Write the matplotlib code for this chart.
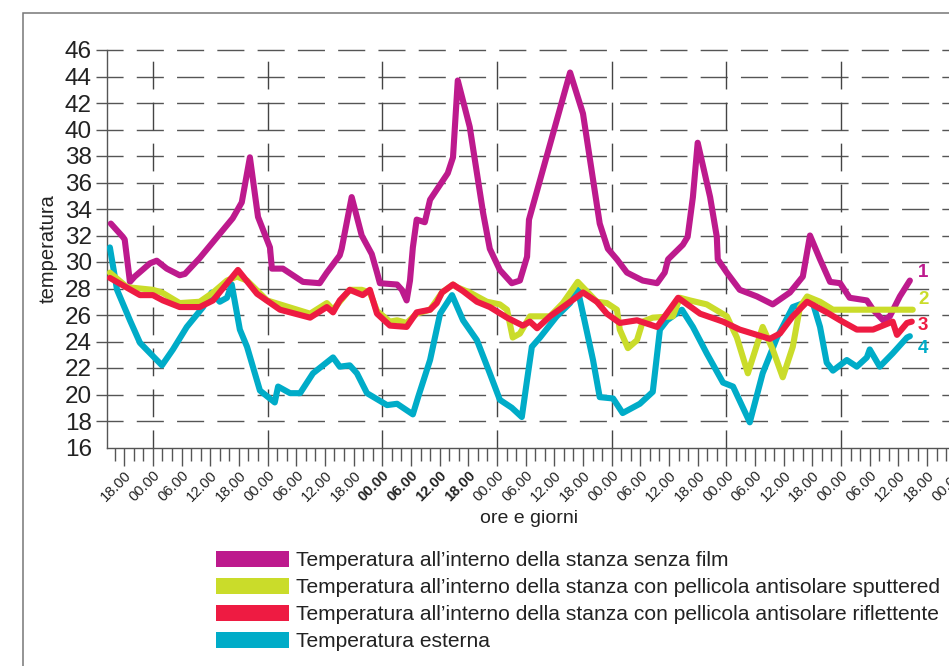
import matplotlib
matplotlib.use("Agg")
import matplotlib.pyplot as plt
from matplotlib.patches import Patch, Rectangle

plt.rcParams['font.family'] = ['Liberation Sans', 'DejaVu Sans']
plt.rcParams['lines.scale_dashes'] = False

# hours from the first midnight
t_senza = [-8.8, -6.3, -5.9, -4.8, -3.8, -0.6, 0.8, 2.9, 5.6, 6.7, 9.8, 16.7, 18.6, 20.3,
           22.0, 24.5, 24.9, 27.2, 31.4, 34.9, 36.4, 39.1, 39.5, 41.6, 43.7, 45.8, 46.9,
           47.5, 51.1, 52.1, 53.1, 53.8, 54.4, 55.2, 56.9, 58.0, 61.7, 62.8, 63.8, 66.3,
           69.1, 70.5, 72.6, 75.1, 76.8, 78.3, 78.7, 87.3, 90.0, 93.5, 95.2, 97.1, 99.2,
           102.5, 105.5, 107.1, 107.8, 110.9, 111.9, 113.0, 114.0, 116.6, 118.0, 118.2,
           120.1, 122.8, 126.4, 129.7, 133.3, 136.0, 137.5, 139.6, 141.7, 143.8, 145.8,
           149.4, 150.7, 152.8, 154.2, 156.3, 158.4]
v_senza = [32.9, 31.9, 31.7, 28.5, 28.9, 29.9, 30.1, 29.5, 29.0, 29.1, 30.3, 33.3, 34.5, 37.9,
           33.4, 31.1, 29.5, 29.5, 28.5, 28.4, 29.2, 30.5, 31.0, 34.9, 32.0, 30.6, 29.2,
           28.4, 28.3, 27.9, 27.1, 28.6, 31.1, 33.2, 33.0, 34.7, 36.7, 37.9, 43.7, 40.2,
           33.7, 31.0, 29.4, 28.4, 28.6, 30.4, 33.2, 44.3, 41.2, 32.9, 31.0, 30.2, 29.2,
           28.6, 28.4, 29.2, 30.2, 31.3, 31.9, 34.9, 39.0, 34.9, 31.9, 30.2,
           29.2, 27.9, 27.4, 26.8, 27.7, 28.9, 32.0, 30.2, 28.5, 28.4, 27.3,
           27.1, 26.4, 25.6, 25.9, 27.4, 28.6]

t_sputt = [-9.0, -5.4, 0.0, 1.9, 5.6, 9.8, 12.6, 15.5, 17.6, 19.7, 23.9, 32.9, 36.4, 37.7,
           39.8, 41.2, 43.7, 45.4, 46.9, 49.6, 51.1, 53.1, 55.2, 58.0, 60.5, 62.8, 63.6,
           66.3, 69.9, 72.6, 74.1, 75.3, 76.8, 78.9, 83.1, 85.8, 88.9, 92.9, 95.0, 97.1,
           97.7, 99.4, 101.3, 102.5, 104.6, 108.8, 110.3, 112.4, 115.9, 120.1, 122.2,
           124.5, 127.6, 129.7, 131.8, 133.9, 135.4, 136.9, 139.6, 142.3, 159.0]
v_sputt = [29.2, 28.1, 27.9, 27.7, 26.9, 27.0, 27.7, 28.6, 28.9, 28.6, 27.1, 26.1, 26.9, 26.4,
           27.3, 27.9, 27.9, 27.7, 26.3, 25.5, 25.6, 25.4, 26.1, 26.4, 27.7, 28.3, 28.1,
           27.7, 27.0, 26.8, 26.4, 24.3, 24.6, 25.9, 25.9, 26.9, 28.5, 27.0, 26.9, 26.4,
           24.9, 23.5, 24.1, 25.5, 25.8, 25.9, 27.3, 27.1, 26.8, 25.9, 24.3,
           21.6, 25.1, 23.4, 21.3, 23.6, 26.6, 27.4, 27.0, 26.4, 26.4]

t_rifl = [-9.0, -2.7, 0.0, 2.1, 5.6, 9.8, 12.6, 17.8, 21.8, 26.6, 32.9, 36.4, 37.7, 39.1,
          41.2, 43.9, 45.4, 46.9, 49.6, 53.1, 55.2, 58.0, 59.4, 60.5, 62.8, 64.9, 67.8,
          70.5, 74.1, 77.4, 78.9, 80.4, 83.1, 85.8, 90.0, 92.9, 95.0, 97.7, 101.3, 105.5,
          109.9, 114.5, 119.3, 122.8, 129.1, 131.2, 133.9, 136.9, 141.0, 143.8, 147.3,
          150.7, 154.8, 155.7, 157.8, 158.8]
v_rifl = [28.8, 27.5, 27.5, 27.1, 26.6, 26.6, 27.1, 29.4, 27.6, 26.4, 25.8, 26.6, 26.2, 27.1,
          27.9, 27.5, 27.9, 26.1, 25.2, 25.1, 26.2, 26.4, 26.9, 27.7, 28.3, 27.8, 27.0,
          26.6, 25.8, 25.2, 25.5, 25.0, 25.9, 26.6, 27.7, 27.0, 26.1, 25.4, 25.6, 25.1,
          27.3, 26.1, 25.5, 24.9, 24.2, 24.6, 25.9, 27.0, 26.2, 25.6, 24.9,
          24.9, 25.5, 24.5, 25.4, 25.5]

t_est = [-9.0, -7.5, -4.8, -2.7, 1.9, 4.2, 7.1, 10.5, 12.3, 14.0, 15.5, 16.5, 18.2, 19.7,
         22.4, 25.5, 26.2, 28.7, 30.8, 33.5, 37.7, 39.1, 41.2, 42.7, 44.8, 49.0, 51.1,
         54.4, 55.5, 58.0, 60.1, 62.6, 64.9, 67.8, 70.5, 72.6, 75.1, 77.2, 78.3, 79.3,
         81.0, 84.5, 87.3, 88.9, 90.0, 92.1, 93.5, 96.3, 98.3, 101.9, 104.6, 106.1, 107.6,
         110.7, 113.0, 115.9, 119.3, 121.4, 124.9, 127.6, 130.6, 133.9, 136.9, 138.1,
         139.6, 141.0, 142.3, 145.2, 147.3, 149.4, 150.0, 152.1, 154.8, 157.8, 158.4]
v_est = [31.1, 27.9, 25.6, 23.9, 22.2, 23.4, 25.1, 26.6, 27.7, 27.0, 27.3, 28.3, 24.9, 23.6,
         20.3, 19.4, 20.6, 20.1, 20.1, 21.6, 22.8, 22.1, 22.2, 21.6, 20.1, 19.2, 19.3,
         18.5, 19.8, 22.6, 26.1, 27.5, 25.6, 24.1, 21.6, 19.6, 19.0, 18.3, 21.1, 23.6,
         24.3, 25.9, 26.9, 27.9, 26.1, 22.6, 19.8, 19.7, 18.6, 19.3, 20.2, 24.9, 25.6,
         26.4, 25.1, 23.1, 20.9, 20.6, 17.9, 21.6, 24.3, 26.6, 27.0, 26.9,
         25.1, 22.4, 21.8, 22.6, 22.1, 22.8, 23.4, 22.1, 23.1, 24.3, 24.4]

nomi = ['Temperatura all\u2019interno della stanza senza film',
        'Temperatura all\u2019interno della stanza con pellicola antisolare sputtered',
        'Temperatura all\u2019interno della stanza con pellicola antisolare riflettente',
        'Temperatura esterna']
colori = ['#BD1A8D', '#CADC2A', '#EE1B42', '#00ACC8']
numeri = ['1', '2', '3', '4']
y_numeri = [29.2, 27.2, 25.2, 23.5]

ore = list(range(-6, 169, 6))
etichette = ['%02d.00' % (h % 24) for h in ore]
grassetto = [48, 54, 60, 66]

W, H = 949, 666
fig = plt.figure(figsize=(W / 100, H / 100), dpi=100)
x0, x1 = -9.6, 170
px_h = 4.779
ax_w = (x1 - x0) * px_h
ax = fig.add_axes([107 / W, 1 - 447.5 / H, ax_w / W, 397.5 / H])
ax.set_xlim(x0, x1)
ax.set_ylim(16, 46)

# frame round the picture
fig.add_artist(Rectangle((23 / W, -0.1), 1.2, 1.1 - 13 / H, transform=fig.transFigure,
                         fill=False, ec='#777777', lw=1.1))

for y in range(18, 47, 2):
    ax.axhline(y, xmin=-11 / ax_w, xmax=1, color='#555555', lw=1.0,
               ls=(0, (19.5, 9.5)), clip_on=False, zorder=1)
for h in range(0, 169, 24):
    ax.axvline(h, color='#444444', lw=1.0, ls=(7, (20, 9.5)), zorder=1)

serie = [(t_est, v_est), (t_senza, v_senza), (t_sputt, v_sputt), (t_rifl, v_rifl)]
ordine = [3, 0, 1, 2]
for (tt, vv), i in zip(serie, ordine):
    ax.plot(tt, vv, color=colori[i], lw=4.4, solid_joinstyle='round',
            solid_capstyle='round', zorder=3)

for n, y, c in zip(numeri, y_numeri, colori):
    ax.text(161.2, y, n, color=c, fontsize=13.5, fontweight='bold', ha='center',
            va='center')

for s in ['top', 'right']:
    ax.spines[s].set_visible(False)
for s in ['left', 'bottom']:
    ax.spines[s].set_color('#555555')
    ax.spines[s].set_linewidth(1.0)

ax.set_yticks(range(16, 47, 2))
ax.tick_params(axis='y', length=0, pad=11, labelsize=17.5, labelcolor='#222222')
ax.set_xticks(ore)
ax.set_xticks(range(-8, 169, 2), minor=True)
ax.set_xticklabels(etichette, rotation=45, ha='right', va='top',
                   rotation_mode='anchor', fontsize=10.5, color='#222222')
for h, lab in zip(ore, ax.get_xticklabels()):
    if h in grassetto:
        lab.set_fontweight('bold')
ax.tick_params(axis='x', which='major', length=13, width=1.0, color='#555555', pad=2)
ax.tick_params(axis='x', which='minor', length=9, width=1.0, color='#555555')

ax.set_xlabel('ore e giorni', fontsize=14, color='#222222')
ax.xaxis.set_label_coords((529 - 107) / ax_w, -0.156)
ax.set_ylabel('temperatura', fontsize=14.5, color='#222222')
ax.yaxis.set_label_coords(-49 / ax_w, 0.5)

maniglie = [Patch(facecolor=c, edgecolor='none') for c in colori]
fig.legend(maniglie, nomi, loc='upper left', bbox_to_anchor=(216 / W, 1 - 551 / H),
           frameon=False, fontsize=15.1, handlelength=3.5, handleheight=0.8,
           handletextpad=0.33, labelspacing=0.36, borderpad=0, borderaxespad=0,
           labelcolor='#222222')

fig.savefig('out.png', dpi=100)
